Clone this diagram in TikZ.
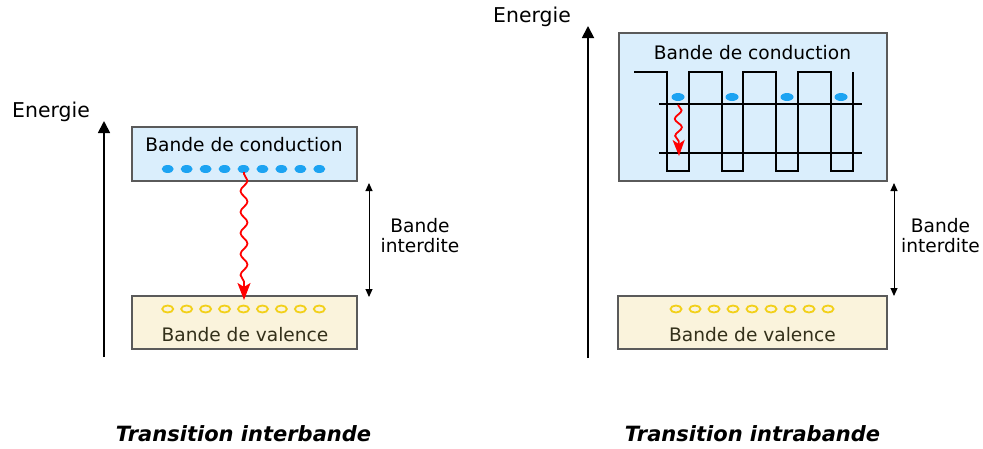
\documentclass[tikz,border=0pt]{standalone}
\usepackage{fontspec}
\setmainfont{DejaVu Sans}
\usetikzlibrary{arrows.meta,decorations.pathmorphing,shapes.geometric}
\definecolor{cbfill}{HTML}{DAEEFC}
\definecolor{vbfill}{HTML}{FAF3DC}
\definecolor{bordergray}{HTML}{5A5A5A}
\definecolor{eblue}{HTML}{1CA3F2}
\definecolor{hyellow}{HTML}{F2D01A}
\definecolor{vtext}{HTML}{33301A}
\tikzset{
  band/.style={draw=bordergray, line width=1.1pt, inner sep=0pt},
  cband/.style={band, fill=cbfill},
  vband/.style={band, fill=vbfill},
  lbl/.style={inner sep=0pt, anchor=base, font=\fontsize{18.6}{20}\selectfont},
  elec/.style={ellipse, fill=eblue, minimum width=12pt, minimum height=8pt, inner sep=0pt},
  hole/.style={ellipse, draw=hyellow, line width=1.8pt, minimum width=11pt, minimum height=7pt, inner sep=0pt},
  axisarrow/.style={line width=1.8pt, -{Triangle[length=12pt,width=12pt]}},
  gaparrow/.style={line width=1pt, {Triangle[length=8pt,width=7pt]}-{Triangle[length=8pt,width=7pt]}},
  photon/.style={red, line width=1.8pt, -{Triangle[length=17pt,width=13pt, inset=4pt]},
    decorate, decoration={snake, segment length=21pt, amplitude=3.5pt, pre length=2pt, post length=14pt}},
  photonsmall/.style={red, line width=1.8pt, -{Triangle[length=16pt,width=12pt, inset=4pt]},
    decorate, decoration={snake, segment length=17pt, amplitude=3.5pt, post length=13pt}},
  wave/.style={line width=2pt, line join=miter},
  level/.style={line width=1.5pt},
  title/.style={inner sep=0pt, anchor=base, font=\fontsize{21}{24}\selectfont\bfseries\itshape},
}
\begin{document}
\begin{tikzpicture}[x=1pt,y=-1pt]
\useasboundingbox (0,0) rectangle (983,448);

% ---------------- Left: interband ----------------
\coordinate (la0) at (104,357);
\coordinate (la1) at (104,121);
\draw[axisarrow] (la0) -- (la1);
\node[lbl, font=\fontsize{20.4}{22}\selectfont] (len) at (51,117) {Energie};

\node[cband, minimum width=225pt, minimum height=54pt] (lcb) at (244.5,154) {};
\node[lbl] (lcbt) at (244,151) {Bande de conduction};
\foreach \i in {0,...,8} {
  \node[elec] (lcd\i) at ({167.7+\i*18.95},169) {};
}

\node[vband, minimum width=225pt, minimum height=53pt] (lvb) at (244.5,322.5) {};
\node[lbl, text=vtext] (lvbt) at (245,341) {Bande de valence};
\foreach \i in {0,...,8} {
  \node[hole] (lvh\i) at ({167.7+\i*18.95},309) {};
}

\coordinate (lph0) at (244,172);
\coordinate (lph1) at (244,300);
\draw[photon] (lph0) -- (lph1);

\coordinate (lg0) at (369,183);
\coordinate (lg1) at (369,297);
\draw[gaparrow] (lg0) -- (lg1);
\node[inner sep=0pt, align=center, font=\fontsize{18.6}{20}\selectfont] (lgt) at (420,236) {Bande\\interdite};

\node[title] (lt) at (243.5,441) {Transition interbande};

% ---------------- Right: intraband ----------------
\coordinate (ra0) at (588,358);
\coordinate (ra1) at (588,26);
\draw[axisarrow] (ra0) -- (ra1);
\node[lbl, font=\fontsize{20.4}{22}\selectfont] (ren) at (532,22) {Energie};

\node[cband, minimum width=268pt, minimum height=148pt] (rcb) at (753,107) {};
\node[lbl] (rcbt) at (752.5,59) {Bande de conduction};

\draw[wave] (634,72) -- (667,72) -- (667,171) -- (689,171) -- (689,72) -- (722,72)
  -- (722,171) -- (743,171) -- (743,72) -- (776,72) -- (776,171) -- (798,171)
  -- (798,72) -- (831,72) -- (831,171) -- (853,171) -- (853,72);
\coordinate (rl1a) at (659,104);
\coordinate (rl1b) at (862,104);
\coordinate (rl2a) at (659,153);
\coordinate (rl2b) at (862,153);
\draw[level] (rl1a) -- (rl1b);
\draw[level] (rl2a) -- (rl2b);

\node[elec, minimum width=13pt] (rd0) at (678,97) {};
\node[elec, minimum width=13pt] (rd1) at (732,97) {};
\node[elec, minimum width=13pt] (rd2) at (787,97) {};
\node[elec, minimum width=13pt] (rd3) at (841,97) {};

\coordinate (rph0) at (678,105);
\coordinate (rph1) at (679,156);
\draw[photonsmall] (rph0) -- (rph1);

\node[vband, minimum width=269pt, minimum height=53pt] (rvb) at (752.5,322.5) {};
\node[lbl, text=vtext] (rvbt) at (752.5,341) {Bande de valence};
\foreach \i in {0,...,8} {
  \node[hole] (rvh\i) at ({676+\i*19},309) {};
}

\coordinate (rg0) at (894,183);
\coordinate (rg1) at (894,296);
\draw[gaparrow] (rg0) -- (rg1);
\node[inner sep=0pt, align=center, font=\fontsize{18.6}{20}\selectfont] (rgt) at (940.5,236) {Bande\\interdite};

\node[title] (rt) at (752.5,441) {Transition intrabande};
\end{tikzpicture}
\end{document}
